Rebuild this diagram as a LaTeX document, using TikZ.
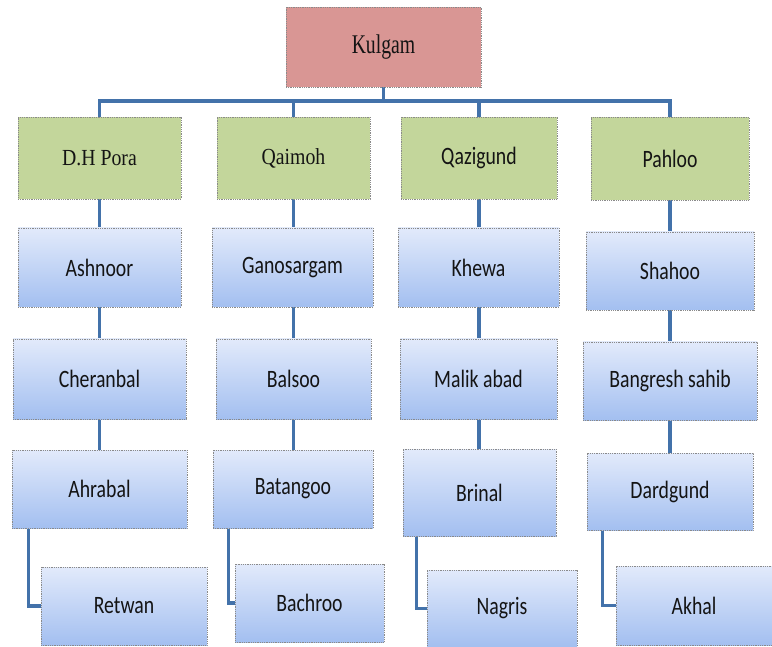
\documentclass[tikz,border=0pt]{standalone}
\usepackage{fontspec}
\usetikzlibrary{backgrounds}
\newfontfamily\toptitle[FakeStretch=0.73]{Liberation Serif}
\newfontfamily\zonetitle[FakeStretch=0.86]{Liberation Serif}
\newfontfamily\villagefont[FakeStretch=0.79]{Carlito}
\definecolor{rootred}{HTML}{D99694}
\definecolor{zonegreen}{HTML}{C3D69B}
\definecolor{boxtop}{HTML}{E2EAFB}
\definecolor{boxbottom}{HTML}{A3BFF0}
\definecolor{linkblue}{HTML}{4372AA}
\definecolor{rimgray}{HTML}{8A8A8A}
\tikzset{
  basebox/.style={draw=rimgray, densely dotted, line width=0.8pt, inner sep=0pt,
    text=black!92,
    append after command={
      [draw=black!40, line width=2.4pt, densely dotted]
      ([yshift=-1.4pt]\tikzlastnode.south west) -- ([yshift=-1.4pt]\tikzlastnode.south east)}},
  rootbox/.style={basebox, fill=rootred, font=\toptitle\fontsize{27}{31}\selectfont},
  zonebox/.style={basebox, fill=zonegreen, font=\zonetitle\fontsize{23}{27}\selectfont},
  zonecal/.style={basebox, fill=zonegreen, font=\villagefont\fontsize{25}{29}\selectfont},
  villagebox/.style={basebox, top color=boxtop, bottom color=boxbottom,
    font=\villagefont\fontsize{25}{29}\selectfont},
  link/.style={draw=linkblue, line width=3.6pt, line join=miter}
}
\newcommand{\bx}[6]{\node[#1, minimum width=#4pt, minimum height=#5pt] (#2) at (#3) {#6};}
\begin{document}
\begin{tikzpicture}[x=1pt, y=-1pt]
\useasboundingbox (0,0) rectangle (772,647);

% district
\bx{rootbox}{kulgam}{383.5,47}{195}{80}{Kulgam}

% zones
\bx{zonebox}{dhpora}{99.5,158}{163}{82}{D.H Pora}
\bx{zonebox}{qaimoh}{293.5,158}{153}{82}{Qaimoh}
\bx{zonecal}{qazigund}{479,158}{156}{82}{Qazigund}
\bx{zonecal}{pahloo}{670,158.5}{158}{83}{Pahloo}

% D.H Pora column
\bx{villagebox}{ashnoor}{99.5,267.5}{163}{79}{Ashnoor}
\bx{villagebox}{cheranbal}{99.5,379}{173}{80}{Cheranbal}
\bx{villagebox}{ahrabal}{99.5,489}{175}{78}{Ahrabal}
\bx{villagebox}{retwan}{124,606}{166}{78}{Retwan}

% Qaimoh column
\bx{villagebox}{ganosargam}{292.5,267.5}{161}{79}{Ganosargam}
\bx{villagebox}{balsoo}{293.5,379}{155}{80}{Balsoo}
\bx{villagebox}{batangoo}{293,489}{160}{78}{Batangoo}
\bx{villagebox}{bachroo}{309.5,603}{149}{78}{Bachroo}

% Qazigund column
\bx{villagebox}{khewa}{478.5,267.5}{161}{79}{Khewa}
\bx{villagebox}{malikabad}{478.5,379}{157}{80}{Malik abad}
\bx{villagebox}{brinal}{479.5,492.5}{153}{87}{Brinal}
\bx{villagebox}{nagris}{502,608.5}{150}{77}{Nagris}

% Pahloo column
\bx{villagebox}{shahoo}{670,271}{168}{78}{Shahoo}
\bx{villagebox}{bangresh}{670,381}{174}{78}{Bangresh sahib}
\bx{villagebox}{dardgund}{670,491.5}{166}{77}{Dardgund}
\bx{villagebox}{akhal}{694,605.5}{156}{79}{Akhal}

\coordinate (bus) at (383,101);

\begin{scope}[on background layer]
  % district to zones
  \draw[link] (kulgam.south) -- (kulgam.south |- bus);
  \draw[link] (dhpora.north) -- (dhpora.north |- bus) -- (pahloo.north |- bus) -- (pahloo.north);
  \draw[link] (qaimoh.north) -- (qaimoh.north |- bus);
  \draw[link] (qazigund.north) -- (qazigund.north |- bus);

  % straight chains
  \draw[link] (dhpora.south) -- (dhpora.south |- ahrabal.north);
  \draw[link] (qaimoh.south) -- (qaimoh.south |- batangoo.north);
  \draw[link] (qazigund.south) -- (qazigund.south |- brinal.north);
  \draw[link] (pahloo.south) -- (pahloo.south |- dardgund.north);

  % elbows to the last village
  \draw[link] ([xshift=17pt]ahrabal.south west) |- (retwan.west);
  \draw[link] ([xshift=16pt]batangoo.south west) |- (bachroo.west);
  \draw[link] ([xshift=14pt]brinal.south west) |- (nagris.west);
  \draw[link] ([xshift=16pt]dardgund.south west) |- (akhal.west);
\end{scope}
\end{tikzpicture}
\end{document}
